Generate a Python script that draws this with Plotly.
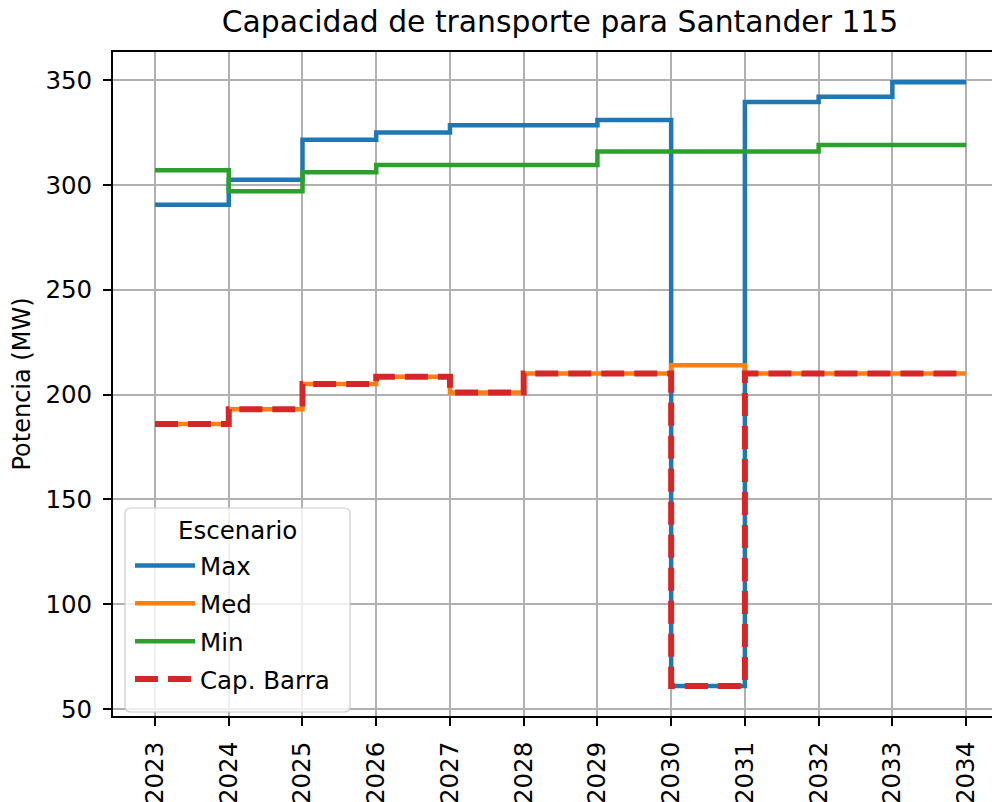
import plotly.graph_objects as go

years = [2023, 2024, 2025, 2026, 2027, 2028, 2029, 2030, 2031, 2032, 2033, 2034]
max_vals = [290.5, 302.5, 321.5, 325.0, 328.5, 328.5, 331.0, 61.0, 339.5, 342.0, 349.0, 349.0]
med_vals = [186.0, 193.0, 205.0, 208.5, 201.0, 210.0, 210.0, 214.0, 210.0, 210.0, 210.0, 210.0]
min_vals = [307.0, 297.0, 306.0, 309.5, 309.5, 309.5, 316.0, 316.0, 316.0, 319.0, 319.0, 319.0]
cap_vals = [186.0, 193.0, 205.0, 208.5, 201.0, 210.0, 210.0, 61.0, 210.0, 210.0, 210.0, 210.0]

FONT = "DejaVu Sans"

# Page has an 8px body margin: figure is drawn at (8, 8)
W, H = 992, 794
ML, MT, MB, MR = 105, 44, 86, 0
PW, PH = W - ML - MR, H - MT - MB


def px_to_paper(xp, yp):
    """page pixel -> plot paper coords"""
    return (xp - 8 - ML) / PW, 1 - (yp - 8 - MT) / PH


fig = go.Figure()
series = [
    ("Max", max_vals, "#1f77b4", 4.5, "solid"),
    ("Med", med_vals, "#ff7f0e", 4.5, "solid"),
    ("Min", min_vals, "#2ca02c", 4.5, "solid"),
    ("Cap. Barra", cap_vals, "#d62728", 6, "23px,10px"),
]
for name, vals, color, w, dash in series:
    fig.add_trace(go.Scatter(
        x=years, y=vals, name=name, mode="lines",
        line=dict(color=color, width=w, dash=dash, shape="hv"),
        legendgroup=name,
    ))

# legend frame (rounded box) + title
bx0, by0, bx1, by1, r = 125, 508, 350, 712, 6
def pt(x, y):
    a, b = px_to_paper(x, y)
    return f"{a:.5f},{b:.5f}"
path = (f"M{pt(bx0 + r, by0)} L{pt(bx1 - r, by0)} Q{pt(bx1, by0)} {pt(bx1, by0 + r)} "
        f"L{pt(bx1, by1 - r)} Q{pt(bx1, by1)} {pt(bx1 - r, by1)} "
        f"L{pt(bx0 + r, by1)} Q{pt(bx0, by1)} {pt(bx0, by1 - r)} "
        f"L{pt(bx0, by0 + r)} Q{pt(bx0, by0)} {pt(bx0 + r, by0)} Z")
fig.add_shape(type="path", path=path, xref="paper", yref="paper", layer="above",
              fillcolor="rgba(255,255,255,0.8)", line=dict(color="#cccccc", width=1.2))
tx, ty = px_to_paper((bx0 + bx1) / 2, 530)
fig.add_annotation(text="Escenario", x=tx, y=ty, xref="paper", yref="paper",
                   showarrow=False, xanchor="center", yanchor="middle",
                   font=dict(size=24.5, color="black"))

lx, ly = px_to_paper(130, 543)
fig.update_layout(
    width=W, height=H,
    margin=dict(l=ML, r=MR, t=MT, b=MB, autoexpand=False),
    plot_bgcolor="white", paper_bgcolor="white",
    font=dict(family=FONT, size=24.5, color="black"),
    title=dict(text="Capacidad de transporte para Santander 115",
               x=552 / W, xanchor="center", y=1 - 14 / H, yanchor="middle",
               xref="container", yref="container", font=dict(size=29.8, color="black")),
    showlegend=True,
    legend=dict(
        x=lx, y=ly, xanchor="left", yanchor="top",
        bgcolor="rgba(0,0,0,0)", borderwidth=0,
        font=dict(size=24.5), tracegroupgap=3, itemwidth=60,
    ),
)
fig.update_xaxes(
    range=[2022.43, 2034.46], tickmode="array", tickvals=years,
    ticktext=[str(y) for y in years], tickangle=-90,
    showgrid=True, gridcolor="#b0b0b0", gridwidth=1.6,
    showline=True, linecolor="black", linewidth=1.8, mirror=True,
    ticks="outside", ticklen=8, tickwidth=1.8, tickcolor="black",
    ticklabelstandoff=6, zeroline=False, automargin=False,
)
fig.update_yaxes(
    range=[46.7, 363.4], tickmode="array", tickvals=[50, 100, 150, 200, 250, 300, 350],
    showgrid=True, gridcolor="#b0b0b0", gridwidth=1.6,
    showline=True, linecolor="black", linewidth=1.8, mirror=False,
    ticks="outside", ticklen=8, tickwidth=1.8, tickcolor="black",
    ticklabelstandoff=6, zeroline=False, automargin=False,
    title=dict(text="Potencia (MW)", standoff=16, font=dict(size=24)),
)

fig.write_html("out.html")
